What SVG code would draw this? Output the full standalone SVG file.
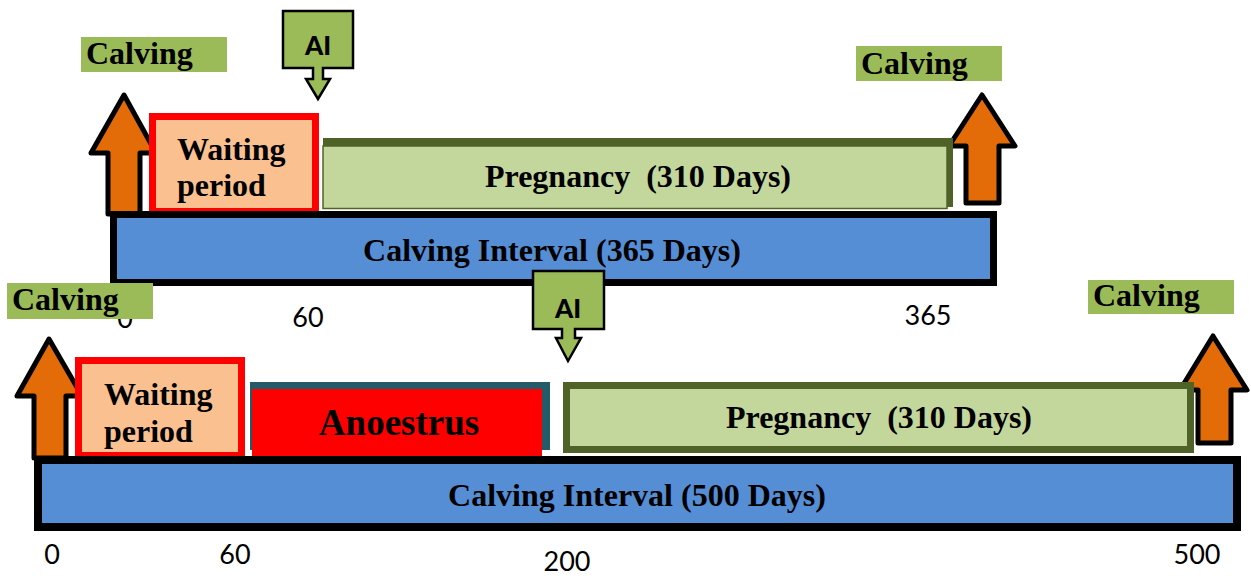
<svg xmlns="http://www.w3.org/2000/svg" width="1251" height="578" viewBox="0 0 1251 578">
  <style>
    .lbl { fill: #9BBB59; }
    .serif { font-family: "Liberation Serif", "Times New Roman", serif; font-weight: bold; fill: #000; }
    .calv { font-size: 32px; }
    .big { font-size: 32px; }
    .num { font-family: Lato, "Liberation Sans", sans-serif; font-size: 27px; fill: #000; text-anchor: middle; }
    .ai { fill: #9BBB59; stroke: #000; stroke-width: 2.5; stroke-linejoin: miter; }
    .aitxt { font-family: Lato, "Liberation Sans", sans-serif; font-weight: 900; font-size: 26px; text-anchor: middle; fill: #000; }
    .up { fill: #E36C09; stroke: #000; stroke-width: 5; stroke-linejoin: round; }
    .wait { fill: #FAC090; stroke: #FF0000; stroke-width: 7; }
    .bar { fill: #558ED5; stroke: #000; }
    .preg { fill: #C3D69B; }
    .mid { text-anchor: middle; }
  </style>

  <!-- Timeline 1: 365-day calving interval -->
  <g id="arrow-calving-1">
    <path class="up" d="M124,95 L156,153 L140,153 L140,214 L108,214 L108,153 L91,153 Z"/>
  </g>
  <g id="arrow-calving-2">
    <path class="up" d="M982,95 L1015,146 L999,146 L999,203 L966,203 L966,146 L949,146 Z"/>
  </g>
  <g id="label-calving-1">
    <rect class="lbl" x="81" y="37" width="146" height="35"/>
    <text class="serif calv" x="86" y="64">Calving</text>
  </g>
  <g id="label-calving-2">
    <rect class="lbl" x="856" y="46" width="146" height="35"/>
    <text class="serif calv" x="861" y="74">Calving</text>
  </g>
  <g id="ai-1">
    <path class="ai" d="M283,11 H353 V68 H323 V79 H330 L318,99 L306,79 H313 V68 H283 Z"/>
    <text class="aitxt" x="318" y="55">AI</text>
  </g>
  <g id="waiting-1">
    <rect class="wait" x="152.5" y="116.5" width="163" height="95"/>
    <text class="serif big" x="177" y="160">Waiting</text>
    <text class="serif big" x="177" y="196">period</text>
  </g>
  <g id="pregnancy-1">
    <rect x="323" y="138" width="630" height="69" fill="#4F6228"/>
    <rect class="preg" x="323" y="146" width="624" height="62.5" stroke="#4F6228" stroke-width="1.5"/>
    <text class="serif big mid" x="638" y="187" xml:space="preserve">Pregnancy  (310 Days)</text>
  </g>
  <g id="interval-365">
    <rect class="bar" x="113.5" y="214.5" width="880" height="68" stroke-width="7"/>
    <text class="serif big mid" x="552" y="261">Calving Interval (365 Days)</text>
  </g>
  <g id="axis-365">
    <text class="num" x="125" y="328">0</text>
    <text class="num" x="308" y="327">60</text>
    <text class="num" x="928" y="325">365</text>
  </g>

  <!-- Timeline 2: 500-day calving interval -->
  <g id="arrow-calving-3">
    <path class="up" d="M49,339 L82,396 L66,396 L66,458 L34,458 L34,396 L17,396 Z"/>
  </g>
  <g id="arrow-calving-4">
    <path class="up" d="M1213,336 L1247,390 L1231,390 L1231,443 L1198,443 L1198,390 L1180,390 Z"/>
  </g>
  <g id="label-calving-3">
    <rect class="lbl" x="7" y="283" width="146" height="36"/>
    <text class="serif calv" x="12" y="310">Calving</text>
  </g>
  <g id="label-calving-4">
    <rect class="lbl" x="1088" y="280" width="146" height="34"/>
    <text class="serif calv" x="1093" y="306">Calving</text>
  </g>
  <g id="ai-2">
    <path class="ai" d="M533,271 H604 V329 H575 V338 H581 L568,361 L556,338 H562 V329 H533 Z"/>
    <text class="aitxt" x="568" y="318">AI</text>
  </g>
  <g id="waiting-2">
    <rect class="wait" x="78.5" y="360.5" width="163" height="95"/>
    <text class="serif big" x="104" y="405">Waiting</text>
    <text class="serif big" x="104" y="442">period</text>
  </g>
  <g id="anoestrus">
    <rect x="250" y="382" width="300" height="68" fill="#245B6A"/>
    <rect x="252" y="389" width="290" height="67" fill="#FF0000"/>
    <text class="serif mid" x="399" y="435" font-size="37" fill="#1A0000">Anoestrus</text>
  </g>
  <g id="pregnancy-2">
    <rect class="preg" x="566.5" y="385.5" width="624" height="64" stroke="#4F6228" stroke-width="7"/>
    <text class="serif big mid" x="879" y="428" xml:space="preserve">Pregnancy  (310 Days)</text>
  </g>
  <g id="interval-500">
    <rect class="bar" x="38" y="460" width="1199" height="67" stroke-width="8"/>
    <text class="serif big mid" x="637" y="506">Calving Interval (500 Days)</text>
  </g>
  <g id="axis-500">
    <text class="num" x="52" y="564">0</text>
    <text class="num" x="235" y="564">60</text>
    <text class="num" x="567" y="571">200</text>
    <text class="num" x="1197" y="564">500</text>
  </g>
</svg>
